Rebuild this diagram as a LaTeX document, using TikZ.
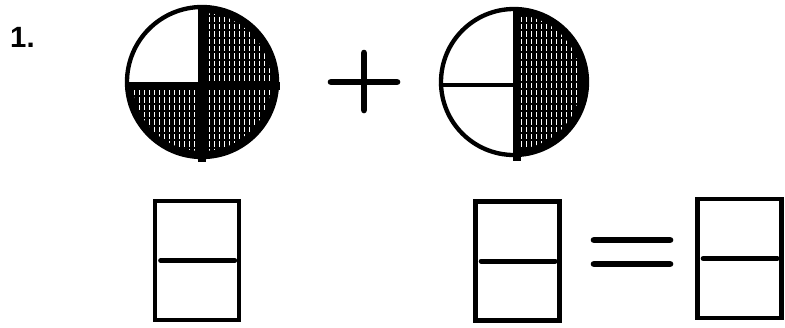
\documentclass[tikz,border=0pt]{standalone}
\usepackage{fontspec}
\setmainfont{Liberation Sans}
\usetikzlibrary{positioning, calc}

\tikzset{
  outline/.style={line width=1.3mm, line cap=round},
  hatch/.style={white, line width=0.3mm, dash pattern=on 1.6mm off 0.6mm},
  denbox/.style={draw, line width=1.4mm, minimum width=25.2mm, minimum height=35.7mm, inner sep=0pt},
  fracline/.style={line width=1.5mm, line cap=round, shorten <=2.4mm, shorten >=2mm},
  opbar/.style={line width=2mm, line cap=round}
}

% shaded quarter: centre, start angle, end angle, radius
\newcommand{\hatchsector}[4]{%
  \fill (#1) -- ++(#2:#4) arc[start angle=#2, end angle=#3, radius=#4] -- cycle;
  \begin{scope}
    \clip (#1) -- ++(#2:#4-6) arc[start angle=#2, end angle=#3, radius=#4-6] -- cycle;
    \foreach \dx in {-68,-63,...,70}
      \draw[hatch] ($(#1)+(\dx,-80)$) -- ++(0,160);
  \end{scope}}

\begin{document}
\begin{tikzpicture}[x=0.3mm, y=-0.3mm]
    \useasboundingbox (0,0) rectangle (785,327);

    % Number
    \node[anchor=base west, inner sep=0pt, font=\fontsize{25}{30}\selectfont\bfseries] (num) at (10,47) {1.};

    % First circle: three quarters
    \coordinate (c1) at (202,82);
    \hatchsector{c1}{0}{-90}{75}
    \hatchsector{c1}{0}{90}{75}
    \hatchsector{c1}{90}{180}{75}
    \draw[outline] (c1) circle[radius=75];
    \draw[line width=2.6mm] ($(c1)+(0,-75)$) -- ($(c1)+(0,80)$);
    \draw[line width=2.6mm] ($(c1)+(-75,4)$) -- ($(c1)+(78,4)$);

    % Plus
    \coordinate (p) at (364,82);
    \draw[opbar] ($(p)+(-33,0)$) -- ($(p)+(33,0)$);
    \draw[opbar] ($(p)+(0,-29)$) -- ($(p)+(0,28)$);

    % Second circle: one half
    \coordinate (c2) at (514,82);
    \hatchsector{c2}{0}{-90}{73}
    \hatchsector{c2}{0}{90}{73}
    \draw[outline] (c2) circle[radius=73];
    \draw[line width=2.6mm] ($(c2)+(3,-73)$) -- ($(c2)+(3,79)$);
    \draw[outline] ($(c2)+(-73,3)$) -- ($(c2)+(3,3)$);

    % Answer boxes
    \node[denbox] (b1) at (197,260.5) {};
    \node[denbox] (b2) at (517.5,261) {};
    \node[denbox] (b3) at (739.5,258.5) {};
    \foreach \b in {b1,b2,b3}
      \draw[fracline] (\b.west) -- (\b.east);

    % Equals
    \coordinate (eq) at (632,252);
    \draw[opbar] ($(eq)+(-38,-12)$) -- ($(eq)+(38,-12)$);
    \draw[opbar] ($(eq)+(-38,12)$) -- ($(eq)+(38,12)$);
\end{tikzpicture}
\end{document}
